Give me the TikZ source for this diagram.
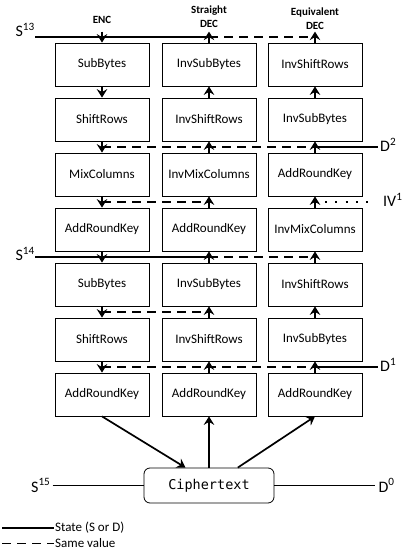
\documentclass[tikz,border=0pt]{standalone}
\usepackage{fontspec}
\setmainfont{Carlito}
\setmonofont{DejaVu Sans Mono}
\usetikzlibrary{arrows.meta, positioning, calc}

\begin{document}
\begin{tikzpicture}[x=1pt, y=1pt,
    stage/.style={draw, line width=0.8pt, minimum width=94pt, minimum height=43pt,
                  inner sep=0pt, font=\fontsize{13}{15}\selectfont},
    flow/.style={line width=1.7pt, -{Stealth[length=8.5pt, width=10.5pt, inset=3pt]}},
    state/.style={line width=1.7pt},
    same/.style={line width=1.7pt, dash pattern=on 9pt off 6pt},
    iv/.style={line width=1.8pt, dash pattern=on 2pt off 8.2pt},
    lbl/.style={font=\fontsize{16}{18}\selectfont, inner sep=2pt},
    head/.style={font=\bfseries\fontsize{11}{14}\selectfont, align=center},
    key/.style={font=\fontsize{13}{15}\selectfont, anchor=west, inner sep=1pt}
  ]
  \useasboundingbox (0,0) rectangle (408,550);

  % ENC column
  \foreach \t [count=\i] in {SubBytes, ShiftRows, MixColumns, AddRoundKey,
                             SubBytes, ShiftRows, AddRoundKey}
    \node[stage] (enc\i) at (102, {485.5-55*(\i-1)}) {\t};
  % Straight DEC column
  \foreach \t [count=\i] in {InvSubBytes, InvShiftRows, InvMixColumns, AddRoundKey,
                             InvSubBytes, InvShiftRows, AddRoundKey}
    \node[stage] (sdec\i) at (209, {485.5-55*(\i-1)}) {\t};
  % Equivalent DEC column
  \foreach \t [count=\i] in {InvShiftRows, InvSubBytes, AddRoundKey, InvMixColumns,
                             InvShiftRows, InvSubBytes, AddRoundKey}
    \node[stage] (edec\i) at (315, {485.5-55*(\i-1)}) {\t};

  % Headings
  \node[head] at (102, 530) {ENC};
  \node[head] at (209, 533) {Straight\\DEC};
  \node[head] at (315, 531) {Equivalent\\DEC};

  % Ciphertext
  \node[draw, line width=0.8pt, rounded corners=6pt, minimum width=130pt, minimum height=35pt,
        font=\ttfamily\fontsize{13.5}{16}\selectfont] (ct) at (209, 64.5) {Ciphertext};

  % Arrows between rounds
  \foreach \i [count=\j from 2] in {1,...,6} {
    \coordinate (m\i) at ($(enc\i.south)!.5!(enc\j.north)$);
    \draw[flow] (enc\i) -- (enc\j);
    \draw[flow] (sdec\j) -- (sdec\i);
    \draw[flow] (edec\j) -- (edec\i);
  }

  % S13 on top
  \coordinate (ein) at ($(enc1.north)+(0,11)$);
  \coordinate (sout) at ($(sdec1.north)+(0,11)$);
  \coordinate (eout) at ($(edec1.north)+(0,11)$);
  \coordinate (in13) at ($(enc1.north)+(-67,5.5)$);
  \node[lbl, anchor=base east, inner sep=0pt] at ($(in13)+(0,0.5)$) {S\textsuperscript{13}};
  \draw[flow] (ein) -- (enc1);
  \draw[flow] (sdec1) -- (sout);
  \draw[flow] (edec1) -- (eout);
  \draw[state] (in13) -- (in13 -| sdec1.north);
  \draw[same] (in13 -| sdec1.north) -- (in13 -| edec1.north);

  % D2
  \coordinate (o2) at ($(m2)+(276,0)$);
  \node[lbl, anchor=base west, yshift=-5pt] at (o2) {D\textsuperscript{2}};
  \draw[same] (m2) -- (m2 -| edec2);
  \draw[state] (m2 -| edec2) -- (o2);

  % IV1
  \coordinate (o3) at ($(m3)+(270,0)$);
  \node[lbl, anchor=base west, yshift=-5pt] at ($(o3)+(9,0)$) {IV\textsuperscript{1}};
  \draw[same] (m3) -- (m3 -| sdec3);
  \draw[iv] (m3 -| edec3) -- (o3);

  % S14
  \coordinate (in14) at ($(m4)+(-67,0)$);
  \node[lbl, anchor=base east, inner sep=0pt, yshift=-4pt] at (in14) {S\textsuperscript{14}};
  \draw[state] (in14) -- (m4 -| sdec4);
  \draw[same] (m4 -| sdec4) -- (m4 -| edec4);

  % round 14 halves
  \draw[same] (m5) -- (m5 -| sdec5);

  % D1
  \coordinate (o6) at ($(m6)+(276,0)$);
  \node[lbl, anchor=base west, yshift=-5pt] at (o6) {D\textsuperscript{1}};
  \draw[same] (m6) -- (m6 -| edec6);
  \draw[state] (m6 -| edec6) -- (o6);

  % Ciphertext links
  \coordinate (ctl) at ($(ct.north west)!0.32!(ct.north east)$);
  \coordinate (ctr) at ($(ct.north west)!0.72!(ct.north east)$);
  \draw[flow] (enc7.south) -- (ctl);
  \draw[flow] (ct) -- (sdec7);
  \draw[flow] (ctr) -- (edec7.south);

  \node[lbl, anchor=east] (s15) at ($(ct.west)+(-91,0)$) {S\textsuperscript{15}};
  \node[lbl, anchor=west, inner sep=3pt] (d0) at ($(ct.east)+(101,0)$) {D\textsuperscript{0}};
  \draw[state] (s15) -- (ct);
  \draw[state] (ct) -- (d0);

  % Legend
  \coordinate (k1) at (2, 22);
  \coordinate (k2) at (2, 6.5);
  \node[key] (k1t) at (54, 22) {State (S or D)};
  \node[key] (k2t) at (54, 6.5) {Same value};
  \draw[state] (k1) -- (k1t);
  \draw[same] (k2) -- (k2t);
\end{tikzpicture}
\end{document}
